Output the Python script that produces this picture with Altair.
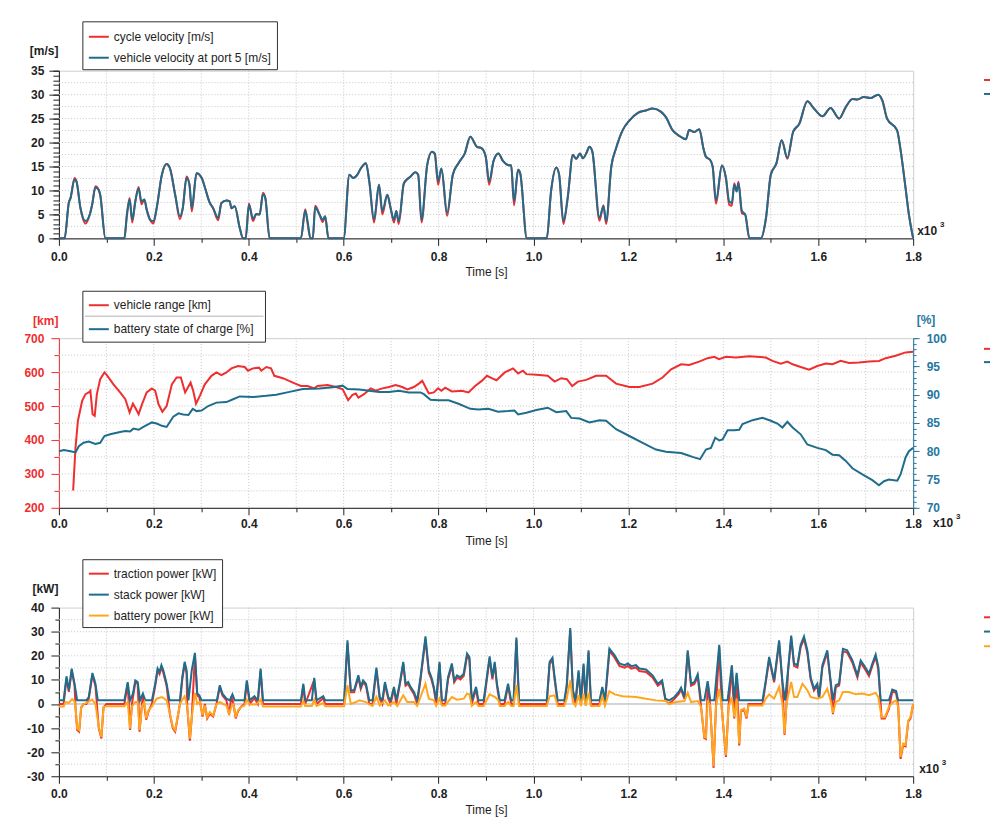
import altair as alt
import pandas as pd

FONT = "Liberation Sans"
INK = "#1e1e1e"
RED = "#ee2e2f"
BLUE = "#1f6d8c"
TEAL = "#2577a0"
ORANGE = "#ffa61f"
GRID = "#c6c6c6"
FRAME = "#cfcfcf"
BOXC = "#303030"

W = 856
H1, H2, H3 = 168, 170, 169

# ---------------- tick / grid values ----------------
X_MAJOR = [0, 200, 400, 600, 800, 1000, 1200, 1400, 1600, 1800]
X_MINOR = [100, 300, 500, 700, 900, 1100, 1300, 1500, 1700]
X_GRID = [100, 200, 300, 400, 500, 600, 700, 800, 900, 1000, 1100, 1200, 1300, 1400, 1500, 1600, 1700]

V_MAJOR = [0, 5, 10, 15, 20, 25, 30, 35]
V_MINOR = list(range(0, 36))
V_GRID = [2.5, 5, 7.5, 10, 12.5, 15, 17.5, 20, 22.5, 25, 27.5, 30, 32.5]

KM_MAJOR = [200, 300, 400, 500, 600, 700]
KM_MINOR = [250, 350, 450, 550, 650]
KM_GRID = [250, 300, 350, 400, 450, 500, 550, 600, 650]
PCT_MAJOR = [70, 75, 80, 85, 90, 95, 100]
PCT_MINOR = list(range(70, 101))

KW_MAJOR = [-30, -20, -10, 0, 10, 20, 30, 40]
KW_MINOR = [-25, -15, -5, 5, 15, 25, 35]
KW_GRID = [-25, -20, -15, -10, -5, 5, 10, 15, 20, 25, 30, 35]
KW_ZERO = [0]

V_NAMES = ["cycle velocity [m/s]", "vehicle velocity at port 5 [m/s]"]
R_NAMES = ["vehicle range [km]", "battery state of charge [%]"]
P_NAMES = ["traction power [kW]", "stack power [kW]", "battery power [kW]"]

# ---------------- data (time [s], value) ----------------
CYCLE_V = [
(0,0),(12,0),(21,7.5),(24.5,8.4),(33,12.6),(37,11.9),(45.5,6.3),(56,3.1),(66,5.3),(70,7.0),(77,10.9),(84,10.1),(87,9.1),(98,0),
(138,0),(143,4.6),(149,8.4),(154.5,3.3),(161,7.7),(168,10.7),(174,7.1),(180,8.1),(185,6.0),(192,3.9),(199,3.1),(206,6.3),(217,13.3),(227,15.5),(234,14.6),(245,9.1),(255,4.0),(261,6.3),(269,12.9),(275,11.3),(280,5.6),(290,13.6),(301,12.6),(308,10.5),(318,7.4),(325,6.3),(335.5,3.8),(342.5,7.4),(353,7.9),(360,7.7),(363.5,6.3),(370.5,6.7),(381,2.2),(388,0),
(393.5,0),(400.5,7.3),(409,3.6),(416,5.1),(423,5.0),(430,9.5),(435,8.4),(444,0),
(510,0),(519,6.1),(524,3.1),(530,0),(535,0),(540,6.8),(549,5.0),(556,3.4),(561,4.6),(568,0),
(600,0),(612,13.3),(620,12.6),(629,13.3),(636,14.6),(647,15.7),(654,11.9),(664,3.3),(674.5,11.2),(681.5,5.0),(692,9.1),(699,6.3),(706,3.3),(711,5.7),(716,3.0),(727,11.5),(741,12.9),(751,13.8),(757,13.3),(764,3.3),(776,15.3),(786,18.1),(792,17.7),(799,11.2),(806,14.6),(818,4.7),(830,13.3),(842,15.7),(855,17.7),(867,21.2),(881,19.1),(891,18.8),(899.5,17.0),(906.5,11.2),(916,16.2),(926,17.7),(936,16.1),(946,15.3),(953,15.2),(959,6.9),(967.5,14.3),(972,13.6),(986,0),
(1028,0),(1037,9.8),(1048,14.8),(1054,13.3),(1063,3.0),(1072,8.4),(1083,17.4),(1090,16.6),(1098,17.7),(1104,16.7),(1111,17.7),(1118,19.1),(1124,18.1),(1139,3.7),(1147.5,6.9),(1153,3.0),(1164,15.0),(1174,18.8),(1188,22.6),(1202,24.6),(1220,26.2),(1237,26.7),(1251,27.1),(1269,26.4),(1279,25.3),(1293,22.6),(1307,21.4),(1321,20.7),(1328,22.6),(1339,22.2),(1349.5,22.8),(1358,18.8),(1363.5,17.0),(1372,16.4),(1377.5,15.0),(1384.5,7.2),(1397,15.2),(1405.5,12.6),(1412.5,7.0),(1418,6.8),(1423,11.5),(1428,9.8),(1432,11.8),(1439,5.2),(1446,5.0),(1455,0),
(1479,0),(1490,4.3),(1500,13.3),(1512,15.7),(1523,20.5),(1535,16.6),(1547,22.2),(1560,23.9),(1577,28.6),(1591,27.1),(1609,25.5),(1626,27.2),(1644,25.0),(1658,27.4),(1672,29.1),(1682.5,29.0),(1696,29.5),(1710,29.3),(1726,30.0),(1735,28.8),(1745,25.0),(1766,22.6),(1773,18.8),(1784,10.5),(1791,5.0),(1800,0)]

VEHICLE_V = [
(0,0),(12,0),(21,7.5),(24.5,8.4),(33,12.3),(37,11.9),(45.5,6.3),(56,3.6),(66,5.3),(70,7.0),(77,10.6),(84,10.1),(87,9.1),(98,0),
(138,0),(143,4.6),(149,8.1),(154.5,3.9),(161,7.7),(168,10.4),(174,7.7),(180,8.1),(185,6.0),(192,3.9),(199,3.6),(206,6.3),(217,13.3),(227,15.5),(234,14.6),(245,9.1),(255,4.6),(261,6.3),(269,12.6),(275,11.3),(280,6.3),(290,13.6),(301,12.6),(308,10.5),(318,7.4),(325,6.3),(335.5,4.3),(342.5,7.4),(353,7.9),(360,7.7),(363.5,6.3),(370.5,6.7),(381,2.2),(388,0),
(393.5,0),(400.5,7.0),(409,4.1),(416,5.1),(423,5.0),(430,9.2),(435,8.4),(444,0),
(510,0),(519,5.8),(524,3.6),(530,0),(535,0),(540,6.5),(549,5.0),(556,3.9),(561,4.6),(568,0),
(600,0),(612,13.3),(620,12.6),(629,13.3),(636,14.6),(647,15.7),(654,11.9),(664,3.9),(674.5,11.2),(681.5,5.7),(692,9.1),(699,6.3),(706,3.9),(711,5.7),(716,3.6),(727,11.5),(741,12.9),(751,13.8),(757,13.3),(764,3.9),(776,15.3),(786,18.1),(792,17.7),(799,11.9),(806,14.6),(818,5.3),(830,13.3),(842,15.7),(855,17.7),(867,21.2),(881,19.1),(891,18.8),(899.5,17.0),(906.5,11.9),(916,16.2),(926,17.7),(936,16.1),(946,15.3),(953,15.2),(959,7.7),(967.5,14.3),(972,13.6),(986,0),
(1028,0),(1037,9.8),(1048,14.8),(1054,13.3),(1063,3.6),(1072,8.4),(1083,17.4),(1090,16.6),(1098,17.7),(1104,16.7),(1111,17.7),(1118,19.1),(1124,18.1),(1139,4.3),(1147.5,6.7),(1153,3.6),(1164,15.0),(1174,18.8),(1188,22.6),(1202,24.6),(1220,26.2),(1237,26.7),(1251,27.1),(1269,26.4),(1279,25.3),(1293,22.6),(1307,21.4),(1321,20.7),(1328,22.6),(1339,22.2),(1349.5,22.8),(1358,18.8),(1363.5,17.0),(1372,16.4),(1377.5,15.0),(1384.5,7.9),(1397,15.2),(1405.5,12.6),(1412.5,7.7),(1418,7.4),(1423,11.2),(1428,9.8),(1432,11.5),(1439,5.8),(1446,5.0),(1455,0),
(1479,0),(1490,4.3),(1500,13.3),(1512,15.7),(1523,20.5),(1535,16.8),(1547,22.2),(1560,23.9),(1577,28.6),(1591,27.1),(1609,25.5),(1626,27.2),(1644,25.0),(1658,27.4),(1672,29.1),(1682.5,29.0),(1696,29.5),(1710,29.3),(1726,30.0),(1735,28.8),(1745,25.0),(1766,22.6),(1773,18.8),(1784,10.5),(1791,5.0),(1800,0)]

RANGE_KM = [
(30,251),(35,377),(40,456),(49,515),(56,535),(63,540),(66.4,545),(71,476),(75.5,471),(80,535),(87,579),(96,599),(101,591),(115,564),(129,540),(140,520),(149,481),(156,507),(161,495),(168,476),(175,505),(185,540),(196,552),(203,545),(210,505),(218,483),(227,500),(238,564),(248,584),(257,584),(266,540),(277.5,569),(283,545),(289,507),(297,530),(307.5,564),(321.5,589),(332,599),(342.5,591),(353,599),(363.5,611),(377.5,618),(391.5,615),(398.5,604),(409,611),(421.5,613),(426.5,604),(437,615),(447,611),(454,589),(472,582),(493,569),(510,559),(524,559),(538,552),(545,559),(566,562),(584,556),(598,549),(609.5,517),(618.6,533),(625.6,537),(631,525),(643,535),(657,552),(667.5,545),(681.5,552),(695.5,556),(709.5,562),(723.5,556),(734,549),(748,556),(758.5,566),(765.6,574),(779.4,537),(790,540),(799,552),(806,545),(814,554),(828,543),(849,545),(863,540),(877,559),(891,574),(902,589),(912,582),(922,576),(939.5,599),(957,611),(967.5,596),(978,604),(985,594),(1006,592),(1030,589),(1044.5,572),(1058.5,582),(1070.4,579),(1081.6,559),(1093.5,572),(1111,577),(1132,589),(1153,589),(1174,566),(1202,556),(1223,556),(1251,566),(1272,584),(1290,608),(1311,623),(1328,621),(1349,631),(1367,641),(1381,645),(1391,638),(1405.5,645),(1426.5,643),(1454.5,647),(1489.5,643),(1503.6,633),(1521,625),(1535,631),(1546,623),(1563,615),(1580.7,607),(1598,618),(1616,625),(1630,623),(1647.3,633),(1665,627),(1686,628),(1707,631),(1728,633),(1742,641),(1763,648),(1784,658),(1800,660)]

SOC_PCT = [
(0,80.0),(10.5,80.2),(24.5,80.0),(35,79.8),(42,80.9),(52,81.5),(63,81.7),(77,81.3),(87,81.5),(96,82.7),(108,83.0),(129,83.4),(140,83.6),(150,83.5),(157,84.0),(168,83.8),(178,84.3),(196,85.1),(206,84.9),(217,84.5),(227,84.3),(241,86.1),(252,86.7),(262,86.5),(273,86.4),(282,87.5),(290,87.1),(300.6,87.2),(314.6,88.0),(332,88.6),(353,88.7),(367,89.2),(381,89.7),(409,89.6),(437,89.8),(458,90.0),(486,90.5),(514,91.0),(549,91.1),(577,91.3),(598,91.6),(608,91.0),(632.6,90.9),(653.6,90.7),(674.5,90.5),(695.5,90.5),(716.5,90.7),(737.5,90.4),(762,90.4),(769,90.1),(783,89.1),(800,89.0),(821,89.0),(842,88.4),(867,87.5),(884,87.4),(905,87.5),(925.3,87.0),(946,87.1),(960,87.2),(967.5,86.5),(985,86.8),(1006,87.3),(1030,87.7),(1048,86.9),(1069,87.1),(1079.5,85.9),(1097,85.8),(1118,85.1),(1139,85.5),(1153,85.4),(1174,83.9),(1202,82.7),(1230,81.5),(1258,80.3),(1279,79.9),(1311,79.7),(1325,79.3),(1335,79.0),(1351,78.6),(1363.4,80.3),(1374,80.6),(1383,82.4),(1391.5,81.9),(1398.5,82.1),(1409,83.7),(1423,83.7),(1433.5,83.8),(1440.5,84.8),(1461.5,85.5),(1482.6,85.9),(1500,85.4),(1514,84.9),(1524.6,84.2),(1535,85.2),(1546,84.2),(1563,83.0),(1577,81.2),(1598,80.6),(1616,80.2),(1630,79.4),(1644,79.3),(1658,78.3),(1672,77.0),(1693,75.9),(1714,74.9),(1728,74.0),(1738.5,74.7),(1749,75.0),(1766.5,74.8),(1773.5,75.9),(1784,78.9),(1791,80.0),(1800,80.6)]

TRACTION_KW = [
(0,0),(10,0),(16,10.5),(21,5),(27,13.8),(33,7.5),(35,-1.5),(38.5,-10.8),(42.6,-11.5),(47,-1.5),(52,0),(58,0),(63,2.2),(70.6,12),(77,7.5),(84,-10),(89.5,-14.3),(94,-1.5),(100,0),(138,0),(145,8.3),(150,-10.8),(154,0),(161,9),(166,8.3),(170,-11.5),(175,0),(177,3.5),(184,-6.5),(189,-3),(196,0),(203,7.6),(208,13.8),(212,12.4),(216,15.2),(220,13),(227,7.5),(234,-4.5),(240,-10),(245,-11.5),(250,-6),(255,0),(260,10.2),(265,16.6),(269,13),(270.5,-1.5),(276,-15.2),(280,-5.5),(286.6,20.3),(291.5,3.5),(296,2.8),(302.7,-5.2),(307.6,0),(312.5,-6),(318,-4),(325,-5.2),(332,0),(339,7),(344.6,3.5),(353,1.5),(358.6,-4.5),(363.5,3.2),(368,0),(372.6,-6),(377.5,-3),(384.5,-1),(391,0),(396,9),(402,0),(412,2.4),(419,0),(425,13.8),(430,0),(510,0),(515,7.6),(519,0),(538,10),(543,0),(557,2.4),(561,0),(601,0),(608,25.2),(615,4.9),(622,4.9),(631,11),(636,6.3),(641,9),(647,7.6),(654,0),(661,0),(669,14.2),(676,2.1),(681.5,0),(687,8.3),(694,2.1),(699,0),(706,6.3),(711,0),(718,7.6),(725.6,16.6),(730.5,7.6),(736,8.3),(741,6.3),(748,4.2),(755,0),(762,10.2),(772.4,26.8),(779.4,13),(785,10.2),(790,6.3),(795,0),(802,16.6),(807,0),(814,0),(820,10.2),(828,15.8),(833,9),(839,11),(846,10.2),(853,11.6),(860,19.8),(865,18.5),(870,0),(879,6.3),(884,0),(895,0),(907.6,18.8),(913.4,10.2),(918.3,16.6),(923,7.6),(929,0),(939,0),(946.4,7.6),(953,0),(958,0),(964,26.6),(969.5,0),(1028,0),(1034,16.5),(1040,18.2),(1044.5,10.2),(1051,0),(1065,0),(1070,7),(1077.4,30.6),(1083,4.9),(1088.6,0),(1095,13),(1100,0),(1105.5,15.8),(1110,0),(1116,21.3),(1121,0),(1139,0),(1145,6.3),(1150.5,0),(1160,22),(1171,19.2),(1181,15.8),(1192,15.1),(1198.7,15.8),(1206,14.7),(1216,15.1),(1223,13.7),(1237,13.3),(1251,11),(1262,7.6),(1271,9),(1278,1.5),(1286,0),(1297,2.1),(1306,4.2),(1311,6),(1318,2.1),(1325,21.3),(1332,7.6),(1339,8.3),(1346,11.3),(1353,-1),(1360,-14.2),(1363.4,-14.5),(1367,8.8),(1372,0),(1379.5,-26.5),(1384.5,-1),(1391.4,23.6),(1396.4,-1),(1402,-14.2),(1405.5,-22),(1411,-1),(1418,15.1),(1423,-6),(1428,12),(1433.5,-17.2),(1437,-3),(1444,-2.5),(1449,-6),(1453,0),(1482.6,0),(1489.5,9),(1496.6,18.5),(1507,9),(1517.6,25.4),(1524.6,8.3),(1529,-12.8),(1533,0),(1536.6,13.8),(1543,27.4),(1549,15.8),(1556,15.1),(1563,23.6),(1570,27),(1577,21.3),(1584,10.2),(1591,5.6),(1598,7.6),(1601.8,2.1),(1608.7,15.1),(1619,21.3),(1626,9),(1631,-4.2),(1637,7),(1644,7.6),(1652,21.9),(1661,21.3),(1672,17.1),(1682.5,11),(1689.4,17.1),(1696.4,15.1),(1707,11.6),(1714,15.8),(1721,19.5),(1726.5,14.5),(1733.6,-6),(1740.5,-6),(1749,-2),(1756,5.2),(1764,4.6),(1768.5,-1),(1773.5,-22.8),(1779,-17),(1784,-17.6),(1789.6,-7.3),(1794.5,-6),(1800,0)]

STACK_KW = [
(0,1.5),(10,1.5),(16,11.5),(21,5.7),(27,14.7),(33,8.4),(38.5,1.5),(58,1.5),(63,2.9),(70.6,12.9),(77,8.4),(82,1.5),(138,1.5),(145,9.1),(150,1.5),(156,4.3),(161,9.8),(166,9.1),(171,1.5),(177,4.3),(182,1.5),(196,1.5),(203,8.4),(208,14.7),(212,13.3),(216,16.1),(220,14),(227,8.4),(233,1.5),(255,1.5),(260,11.1),(265,17.5),(269,14),(273,1.5),(280,14),(286.6,21.2),(291.5,4.3),(296,3.6),(300.6,1.5),(333,1.5),(339,7.8),(344.6,4.3),(353,2.2),(360,1.5),(365.6,4),(370.5,1.5),(391,1.5),(396,9.8),(402,1.5),(412,3.2),(419,1.5),(425,14.7),(430,1.5),(510,1.5),(515,8.4),(519,1.5),(533,1.5),(538,10.8),(543,1.5),(557,3.2),(561,1.5),(601,1.5),(608,26.4),(615,5.7),(622,5.7),(631,11.9),(636,7.1),(641,9.8),(647,8.4),(654,1.5),(661,1.5),(669,15.1),(676,2.9),(681.5,1.5),(687,9.1),(694,2.9),(699,1.5),(706,7.1),(711,1.5),(718,8.4),(725.6,17.5),(730.5,8.4),(736,9.1),(741,7.1),(748,5),(755,1.5),(762,11.1),(772.4,28.1),(779.4,14),(785,11.1),(790,7.1),(795,1.5),(802,17.5),(807,1.5),(814,1.5),(820,11.1),(828,16.8),(833,9.8),(839,11.9),(846,11.1),(853,12.6),(860,20.9),(865,19.5),(870,1.5),(879,7.1),(884,1.5),(895,1.5),(907.6,19.8),(913.4,11.1),(918.3,17.5),(923,8.4),(929,1.5),(939,1.5),(946.4,8.4),(953,1.5),(958,1.5),(964,27.6),(969.5,1.5),(1028,1.5),(1034,17.5),(1040,19.2),(1044.5,11.1),(1051,1.5),(1065,1.5),(1070,7.8),(1077.4,31.5),(1083,5.7),(1088.6,1.5),(1095,14),(1100,1.5),(1105.5,16.8),(1110,1.5),(1116,22.3),(1121,1.5),(1139,1.5),(1145,7.1),(1150.5,1.5),(1160,23),(1171,20.2),(1181,16.8),(1192,16.1),(1198.7,16.8),(1206,15.7),(1216,16.1),(1223,14.7),(1237,14.3),(1251,11.9),(1262,8.4),(1271,9.8),(1278,2.2),(1286,1.5),(1297,2.9),(1306,5),(1311,6.8),(1318,2.9),(1325,22.3),(1332,8.4),(1339,9.1),(1346,12.3),(1353,1.5),(1360,1.5),(1367,9.5),(1372.5,1.5),(1381,1.5),(1391.4,24.6),(1398.5,1.5),(1409,1.5),(1418,16.1),(1423,1.5),(1428,12.9),(1433.5,1.5),(1482.6,1.5),(1489.5,9.8),(1496.6,19.5),(1507,9.8),(1517.6,26.4),(1524.6,9.1),(1530,1.5),(1536.6,14.7),(1543,28.4),(1549,16.8),(1556,16.1),(1563,24.6),(1570,28),(1577,22.3),(1584,11.1),(1591,6.3),(1598,8.4),(1601.8,2.9),(1608.7,16.1),(1619,22.3),(1626,9.8),(1631,1.5),(1637,7.8),(1644,8.4),(1652,22.9),(1661,22.3),(1672,18.1),(1682.5,11.9),(1689.4,18.1),(1696.4,16.1),(1707,12.6),(1714,16.8),(1721,20.5),(1726.5,15.4),(1731.5,1.5),(1749,1.5),(1756,6),(1764,5.4),(1768.5,1.5),(1800,1.5)]

BATTERY_KW = [
(0,-1),(10,-1),(14,0.8),(21,0.5),(28,2),(33,1),(35,-1.2),(38.5,-10.2),(42.6,-10.9),(47,-1.2),(52,-0.1),(61,0.8),(70,1.8),(77,0),(84,-9.5),(89.5,-13.7),(94,-1.2),(100,-0.9),(138,-0.9),(145,0.8),(150,-10.2),(154,-1),(161,0.8),(166,0.8),(170,-10.9),(175,-1),(180,0.8),(184,-6),(189,-2.6),(196,-1),(206,2.2),(217,2.9),(227,1.5),(234,-4),(240,-9.5),(245,-10.9),(250,-5.5),(255,0),(265,3.2),(270.5,-1.2),(276,-14.4),(280,-5.5),(286.6,4.6),(291.5,0),(297,0.8),(302.7,-4.7),(307.6,-0.6),(312.5,-5.5),(318,-3.4),(325,-4.7),(332,-0.2),(339,0.8),(346,0),(353,-0.6),(358.6,-4),(363.5,-1.2),(368,-0.2),(372.6,-5.5),(377.5,-2.6),(384.5,-1.2),(391,-0.6),(396,1.8),(402,-0.2),(416,-0.2),(425,1.8),(430,-1),(510,-1),(515,1.2),(519,-0.8),(533,-0.8),(538,1.8),(543,-0.8),(557,0.4),(561,-0.9),(601,-0.9),(608,7.8),(615,0),(626,0.8),(633,1.5),(647,0.8),(654,-0.2),(661,-0.8),(669,2.9),(676,-0.6),(687,1.5),(694,-0.6),(706,0.8),(713,-0.8),(725.6,3.6),(734,0.8),(748,0.8),(755,-0.8),(772.4,8.4),(779.4,2.2),(790,1.5),(795,-0.8),(802,2.2),(807,-0.6),(814,-0.6),(828,2.9),(839,1.8),(853,2.2),(860,4.3),(865,4),(870,-0.8),(879,0.8),(884,-0.8),(895,-0.8),(907.6,4),(919,2.9),(926,1.5),(929,-0.8),(939,-0.8),(946.4,0.8),(953,-0.8),(958,-0.8),(964,7.8),(969.5,-0.8),(1028,-0.8),(1034,3.2),(1044.5,3.6),(1051,-0.8),(1065,-0.8),(1070,2.2),(1077.4,9.8),(1083,0.8),(1088.6,-0.8),(1095,3.6),(1100,-0.8),(1105.5,4.3),(1110,-0.8),(1116,4.6),(1121,-0.8),(1139,-0.8),(1145,3.2),(1150.5,-0.8),(1160,5.3),(1171,4),(1188,3.2),(1216,2.9),(1237,2.2),(1258,1.5),(1279,1.2),(1286,-0.1),(1300,0.8),(1318,1.2),(1325,4.6),(1332,0.8),(1346,1.2),(1353,-1.2),(1360,-13.7),(1363.4,-14),(1367,1.5),(1372,-0.5),(1379.5,-25.8),(1384.5,-1.2),(1391.4,6.3),(1396.4,-1.2),(1402,-13.7),(1405.5,-21.3),(1411,-1.2),(1418,2.9),(1423,-5.5),(1428,2.2),(1433.5,-16.5),(1437,-2.6),(1444,-1.9),(1449,-5.5),(1453,-0.6),(1482.6,-0.6),(1489.5,2.2),(1496.6,4),(1507,2.2),(1517.6,7.1),(1524.6,0),(1529,-12.3),(1533,0),(1543,9.1),(1549,2.9),(1556,2.9),(1566.7,8.4),(1577,5.7),(1584,2.9),(1598,2.2),(1608.7,2.9),(1619,6.3),(1626,1.5),(1631,-3.7),(1637,0.8),(1644,1.5),(1652,5),(1664.5,5),(1679,4),(1693,4.3),(1707,3.6),(1721,4.6),(1726.5,2.9),(1733.6,-5.5),(1740.5,-5.5),(1749,-1.2),(1757.4,0.8),(1764,1.5),(1768.5,-1.2),(1773.5,-22),(1779,-16.4),(1784,-17),(1789.6,-6.8),(1794.5,-5.5),(1800,0)]

DUMMY = pd.DataFrame({"k": [0]})
XS = alt.Scale(domain=[0, 1800], nice=False, zero=False)


def ys(dom):
    return alt.Scale(domain=dom, nice=False, zero=False)


def major_axis(orient, values, tick, pad, color=INK, label_color=INK, expr=None,
               title=None, tx=0, ty=0, talign="center", tweight="bold", tcolor=INK):
    p = dict(orient=orient, values=values, tickSize=tick, tickColor=color, tickWidth=1,
             domain=True, domainColor=color, domainWidth=1, grid=False,
             labelFont=FONT, labelFontSize=12, labelFontWeight="bold", labelColor=label_color,
             labelPadding=pad, labelFlush=False, labelOverlap=False, labelBound=False,
             labelBaseline="middle")
    p["labelAlign"] = {"left": "right", "right": "left"}.get(orient, "center")
    if expr:
        p["labelExpr"] = expr
    if title is None:
        p["title"] = None
    else:
        p.update(title=title, titleFont=FONT, titleFontSize=12, titleFontWeight=tweight,
                 titleColor=tcolor, titleAngle=0, titleX=tx, titleY=ty, titleAlign=talign,
                 titleBaseline="middle")
    return alt.Axis(**p)


def minor_axis(orient, values, tick, color=INK):
    return alt.Axis(orient=orient, values=values, tickSize=tick, tickColor=color, tickWidth=1,
                    domain=False, labels=False, grid=False, title=None)


XEXPR = "format(datum.value/1000, '.1f')"
KWEXPR = "datum.value < 0 ? '-' + (-datum.value) : '' + datum.value"


def x_major(pad):
    return major_axis("bottom", X_MAJOR, 7, pad, expr=XEXPR, title="Time [s]", tx=W / 2, ty=33,
                      talign="center", tweight="normal")


def series_df(pairs, name, field):
    df = pd.DataFrame(pairs, columns=["t", "v"])
    df[field] = name
    return df


def line(pairs, name, field, names, colors, ydom, xaxis, yaxis, legend, interp="linear", width=2.0):
    return alt.Chart(series_df(pairs, name, field)).mark_line(strokeWidth=width, interpolate=interp).encode(
        x=alt.X("t:Q", scale=XS, axis=xaxis),
        y=alt.Y("v:Q", scale=ys(ydom), axis=yaxis),
        color=alt.Color(field + ":N", scale=alt.Scale(domain=names, range=colors), legend=legend),
    )


def xgrid(axis):
    return alt.Chart(pd.DataFrame({"t": X_GRID})).mark_rule(color=GRID, strokeWidth=1, strokeDash=[1, 2]).encode(
        x=alt.X("t:Q", scale=XS, axis=axis))


def ygrid(values, dom, axis):
    return alt.Chart(pd.DataFrame({"v": values})).mark_rule(color=GRID, strokeWidth=1, strokeDash=[1, 2]).encode(
        y=alt.Y("v:Q", scale=ys(dom), axis=axis))


def legend(y, rowpad):
    return alt.Legend(orient="none", legendX=29, legendY=y, title=None, direction="vertical",
                      symbolType="stroke", symbolSize=400, symbolStrokeWidth=2,
                      labelFont=FONT, labelFontSize=12, labelColor=INK, labelOffset=4,
                      rowPadding=rowpad, padding=0, labelLimit=400)


def box(x1, y1, x2, y2):
    return alt.Chart(DUMMY).mark_rect(fill="white", stroke=BOXC, strokeWidth=1).encode(
        x=alt.value(x1), x2=alt.value(x2), y=alt.value(y1), y2=alt.value(y2))


def hrule(x1, x2, y, color, width=1.0):
    return alt.Chart(DUMMY).mark_rule(color=color, strokeWidth=width).encode(
        x=alt.value(x1), x2=alt.value(x2), y=alt.value(y))


def patch(x1, x2, y1, y2, color):
    # filled strip without stroke (exact bounds)
    return alt.Chart(DUMMY).mark_rect(color=color).encode(
        x=alt.value(x1), x2=alt.value(x2), y=alt.value(y1), y2=alt.value(y2))


def stub(y, color):
    # truncated legend entries at the right edge of the window
    return patch(927, 933, y - 1, y + 1, color)


def txt(x, y, s, size=12, color=INK):
    return alt.Chart(DUMMY).mark_text(align="left", baseline="middle", font=FONT, fontSize=size,
                                      fontWeight="bold", color=color).encode(
        x=alt.value(x), y=alt.value(y), text=alt.value(s))


# ---------------- panel 1 : velocities ----------------
leg1 = legend(-45, 4)
p1 = alt.layer(
    xgrid(minor_axis("bottom", X_MINOR, 4)),
    ygrid(V_GRID, [0, 35], minor_axis("left", V_MINOR, 6)),
    line(CYCLE_V, V_NAMES[0], "s1", V_NAMES, [RED, BLUE], [0, 35], x_major(11),
         major_axis("left", V_MAJOR, 10, 5, title="[m/s]", tx=-1, ty=-20, talign="right"),
         leg1, interp="monotone"),
    line(VEHICLE_V, V_NAMES[1], "s1", V_NAMES, [RED, BLUE], [0, 35], None, None, leg1, interp="monotone"),
    box(24, -49, 219, -1),
    txt(860, 161, "x10"),
    txt(883, 155, "3", size=8),
    stub(9.3, RED),
    stub(23.3, BLUE),
    patch(-50, -49, -61, -60, "#ffffff"),
).resolve_axis(x="independent", y="independent").properties(width=W, height=H1)

# ---------------- panel 2 : range and SOC ----------------
leg2 = legend(-44, 7)
soc_carrier = alt.Chart(series_df(SOC_PCT, R_NAMES[1], "s2")).mark_line(opacity=0).encode(
    x=alt.X("t:Q", scale=XS, axis=None),
    y=alt.Y("v:Q", scale=ys([70, 100]), axis=minor_axis("right", PCT_MINOR, 3, TEAL)))
p2 = alt.layer(
    xgrid(minor_axis("bottom", X_MINOR, 4)),
    ygrid(KM_GRID, [200, 700], minor_axis("left", KM_MINOR, 5, RED)),
    line(RANGE_KM, R_NAMES[0], "s2", R_NAMES, [RED, BLUE], [200, 700], x_major(9),
         major_axis("left", KM_MAJOR, 8, 7, color=RED, label_color=RED, title="[km]",
                    tx=-1, ty=-18, talign="right", tcolor=RED),
         leg2),
    line(SOC_PCT, R_NAMES[1], "s2", R_NAMES, [RED, BLUE], [70, 100], None,
         major_axis("right", PCT_MAJOR, 6, 7, color=TEAL, label_color=TEAL, title="[%]",
                    tx=3, ty=-19, talign="left", tcolor=TEAL),
         leg2),
    soc_carrier,
    box(24, -47, 207, 4),
    hrule(26, 205, -22, "#b4b4b4", 1),
    txt(876, 185, "x10"),
    txt(899, 179.5, "3", size=8),
    stub(10.7, RED),
    stub(24, BLUE),
).resolve_scale(y="independent").resolve_axis(x="independent", y="independent").properties(width=W, height=H2)

# ---------------- panel 3 : powers ----------------
leg3 = legend(-45, 4)
zero3 = alt.Chart(pd.DataFrame({"v": KW_ZERO})).mark_rule(color="#a9a9a9", strokeWidth=1).encode(
    y=alt.Y("v:Q", scale=ys([-30, 40]), axis=None))
p3 = alt.layer(
    xgrid(minor_axis("bottom", X_MINOR, 4)),
    ygrid(KW_GRID, [-30, 40], minor_axis("left", KW_MINOR, 4)),
    zero3,
    line(TRACTION_KW, P_NAMES[0], "s3", P_NAMES, [RED, BLUE, ORANGE], [-30, 40], x_major(10),
         major_axis("left", KW_MAJOR, 8, 7, expr=KWEXPR, title="[kW]", tx=-1, ty=-19, talign="right"),
         leg3),
    line(STACK_KW, P_NAMES[1], "s3", P_NAMES, [RED, BLUE, ORANGE], [-30, 40], None, None, leg3),
    line(BATTERY_KW, P_NAMES[2], "s3", P_NAMES, [RED, BLUE, ORANGE], [-30, 40], None, None, leg3),
    box(24, -48, 164, 20),
    txt(862, 161.3, "x10"),
    txt(884.7, 156, "3", size=8),
    stub(9.7, RED),
    stub(24, BLUE),
    stub(38.7, ORANGE),
).resolve_axis(x="independent", y="independent").properties(width=W, height=H3)

chart = alt.vconcat(p1, p2, p3, spacing=100, bounds="flush").resolve_scale(
    color="independent"
).resolve_legend(color="independent").properties(
    padding={"left": 0, "top": 0, "right": 0, "bottom": 6}
).configure_view(stroke=FRAME, strokeWidth=1)

chart.save("out.html", embed_options={"renderer": "svg", "actions": False})
